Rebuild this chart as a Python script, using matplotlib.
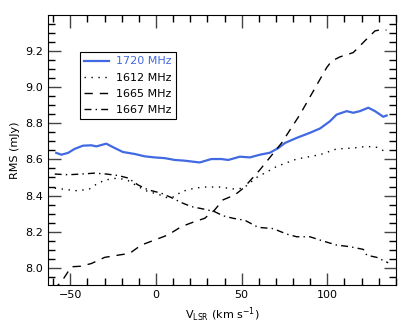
import matplotlib
matplotlib.use("Agg")
import matplotlib.pyplot as plt
from matplotlib.ticker import MultipleLocator

# 1720 MHz
v_1720 = [-58.2, -55.2, -51.3, -47.5, -42.6, -37.7, -34.8, -29.0, -24.1, -19.3, -12.4, -6.6,
          -0.8, 5.1, 10.9, 16.7, 25.5, 32.3, 38.1, 42.2, 49.0, 54.8, 60.7, 66.5, 71.4, 75.3,
          82.1, 89.8, 95.7, 101.5, 105.4, 111.3, 115.1, 119.0, 123.9, 127.8, 132.6, 134.6]
rms_1720 = [8.636, 8.626, 8.636, 8.658, 8.676, 8.678, 8.672, 8.687, 8.663, 8.641, 8.630, 8.617,
            8.611, 8.607, 8.597, 8.593, 8.583, 8.602, 8.602, 8.597, 8.615, 8.611, 8.626, 8.637,
            8.663, 8.691, 8.719, 8.747, 8.771, 8.811, 8.848, 8.867, 8.858, 8.867, 8.886, 8.867,
            8.836, 8.843]

# 1612 MHz
v_1612 = [-59.1, -51.3, -45.5, -38.7, -33.8, -29.0, -22.2, -16.3, -10.5, -4.7, 1.2, 7.0,
          10.9, 14.8, 22.6, 28.4, 37.3, 45.1, 50.9, 58.7, 66.5, 70.4, 82.1, 95.7, 105.4,
          115.1, 122.9, 128.8, 133.6]
rms_1612 = [8.441, 8.432, 8.426, 8.437, 8.469, 8.487, 8.497, 8.483, 8.450, 8.422, 8.408, 8.386,
            8.394, 8.422, 8.441, 8.447, 8.447, 8.437, 8.440, 8.500, 8.540, 8.561, 8.602, 8.626,
            8.658, 8.663, 8.672, 8.667, 8.644]

# 1665 MHz
v_1665 = [-60.0, -55.2, -49.4, -43.6, -37.7, -29.9, -22.2, -15.4, -8.6, -0.8, 7.0, 14.8,
          22.6, 28.4, 34.2, 39.1, 46.1, 51.0, 60.7, 73.3, 84.0, 91.8, 99.6, 102.5, 107.3,
          115.1, 121.9, 127.8, 132.6, 134.5]
rms_1665 = [7.880, 7.922, 8.006, 8.009, 8.024, 8.058, 8.070, 8.080, 8.126, 8.154, 8.182, 8.228,
            8.256, 8.274, 8.320, 8.376, 8.404, 8.441, 8.543, 8.691, 8.848, 8.978, 9.108, 9.144,
            9.167, 9.191, 9.256, 9.311, 9.320, 9.315]

# 1667 MHz
v_1667 = [-59.1, -51.3, -43.6, -35.8, -29.0, -22.2, -16.3, -10.5, -4.7, 3.1, 8.9, 14.8,
          20.6, 28.4, 34.2, 39.1, 45.1, 51.9, 59.7, 68.4, 76.2, 82.1, 89.8, 97.6, 105.4,
          113.2, 121.0, 123.0, 128.8, 135.5]
rms_1667 = [8.519, 8.515, 8.519, 8.524, 8.519, 8.511, 8.497, 8.459, 8.432, 8.413, 8.389, 8.361,
            8.339, 8.324, 8.311, 8.288, 8.274, 8.263, 8.224, 8.217, 8.187, 8.172, 8.172, 8.148,
            8.126, 8.117, 8.102, 8.070, 8.058, 8.028]

fig = plt.figure(figsize=(4.15, 3.23), dpi=100)
ax = fig.add_axes([0.1157, 0.1176, 0.8383, 0.836])

ax.plot(v_1720, rms_1720, color='#4169e1', lw=1.6, label='1720 MHz')
ax.plot(v_1612, rms_1612, color='black', lw=1.0, ls=(0, (1, 4)), label='1612 MHz')
ax.plot(v_1665, rms_1665, color='black', lw=1.0, ls=(0, (6, 5)), label='1665 MHz')
ax.plot(v_1667, rms_1667, color='black', lw=1.0, ls=(0, (5, 3, 1, 3)), label='1667 MHz')

# no label at the top (9.4) or bottom edge
ax.set_xlim(-63, 140)
ax.set_ylim(7.905, 9.399)
ax.xaxis.set_major_locator(MultipleLocator(50))
ax.xaxis.set_minor_locator(MultipleLocator(10))
ax.yaxis.set_major_locator(MultipleLocator(0.2))
ax.yaxis.set_minor_locator(MultipleLocator(0.05))
ax.tick_params(which='both', direction='in', top=True, right=True, labelsize=8)
ax.tick_params(which='major', length=9, width=1, color='#444444')
ax.tick_params(which='minor', length=5, width=1)

ax.set_xlabel(r'V$_{\rm LSR}$ (km s$^{-1}$)', fontsize=8)
ax.set_ylabel('RMS (mJy)', fontsize=8)

leg = ax.legend(loc='upper left', bbox_to_anchor=(0.092, 0.863), fontsize=8,
                fancybox=False, edgecolor='black', framealpha=1, handlelength=2.2,
                handletextpad=0.6, borderaxespad=0, labelspacing=0.55)
leg.get_frame().set_linewidth(0.8)
leg.get_texts()[0].set_color('#4169e1')

fig.savefig('out.png', dpi=100)
